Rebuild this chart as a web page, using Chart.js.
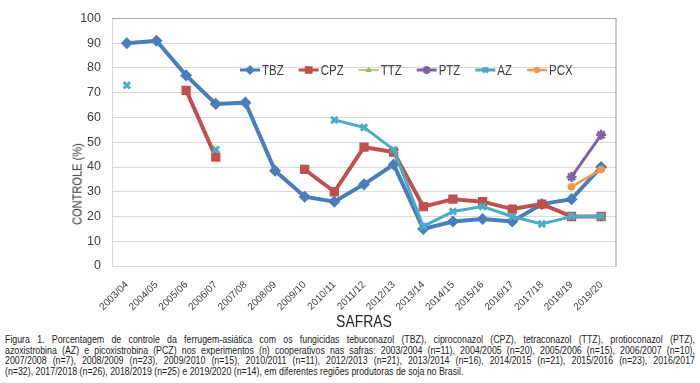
<!DOCTYPE html>
<html>
<head>
<meta charset="utf-8">
<script src="https://cdn.jsdelivr.net/npm/chart.js@4.4.1/dist/chart.umd.min.js"></script>
<style>
  html, body { margin: 0; padding: 0; background: #fff; }
  #wrap { position: relative; width: 700px; height: 383px; overflow: hidden; }
  #chartBox { position: absolute; left: 0; top: 0; width: 700px; height: 334px; }
  .narrow { font-family: "Liberation Sans", Arial, sans-serif; white-space: nowrap; }
  #ytitle {
    position: absolute; left: 77px; top: 184px;
    transform: translate(-50%, -50%) rotate(-90deg) scaleX(0.82);
    font-size: 13.5px; color: #333;
  }
  #xtitle {
    position: absolute; left: 364px; top: 322px;
    transform: translate(-50%, -50%) scaleX(0.82);
    font-size: 17px; color: #262626;
  }
  #caption {
    position: absolute; left: 5px; top: 335px; width: 784px;
    transform-origin: 0 0; transform: scaleX(0.88);
    font-size: 10px; line-height: 10.5px; color: #222;
  }
  #caption div { text-align: justify; text-align-last: justify; }
  #caption div.last { text-align-last: left; }
</style>
</head>
<body>
<div id="wrap">
  <div id="chartBox"><canvas id="chart"></canvas></div>
  <div id="ytitle" class="narrow">CONTROLE (%)</div>
  <div id="xtitle" class="narrow">SAFRAS</div>
  <div id="caption" class="narrow">
    <div>Figura 1. Porcentagem de controle da ferrugem-asiática com os fungicidas tebuconazol (TBZ), ciproconazol (CPZ), tetraconazol (TTZ), protioconazol (PTZ),</div>
    <div>azoxistrobina (AZ) e picoxistrobina (PCZ) nos experimentos (n) cooperativos nas safras: 2003/2004 (n=11), 2004/2005 (n=20), 2005/2006 (n=15), 2006/2007 (n=10),</div>
    <div>2007/2008 (n=7), 2008/2009 (n=23), 2009/2010 (n=15), 2010/2011 (n=11), 2012/2013 (n=21), 2013/2014 (n=16), 2014/2015 (n=21), 2015/2016 (n=23), 2016/2017</div>
    <div class="last">(n=32), 2017/2018 (n=26), 2018/2019 (n=25) e 2019/2020 (n=14), em diferentes regiões produtoras de soja no Brasil.</div>
  </div>
</div>
<script>
/* --------------- Data --------------- */
const safras = ["2003/04", "2004/05", "2005/06", "2006/07", "2007/08", "2008/09", "2009/10", "2010/11",
  "2011/12", "2012/13", "2013/14", "2014/15", "2015/16", "2016/17", "2017/18", "2018/19", "2019/20"];

const tbz = [90, 91, 77, 65.5, 66, 38.5, 28, 26, 33, 41, 15, 18, 19, 18, 25, 27, 40];
const cpz = [null, null, 71, 44, null, null, 39, 30, 48, 46, 24, 27, 26, 23, 25, 20, 20];
const ttz = [null, null, null, null, null, null, null, null, null, null, null, null, null, null, null, 20, 20];
const ptz = [null, null, null, null, null, null, null, null, null, null, null, null, null, null, null, 36, 53];
const az  = [73, null, null, 47, null, null, null, 59, 56, 47, 16, 22, 24, 20, 17, 20, 20];
const pcx = [null, null, null, null, null, null, null, null, null, null, null, null, null, null, null, 32, 39];

const yTicks = [0, 10, 20, 30, 40, 50, 60, 70, 80, 90, 100];

const FONT = '"Liberation Sans", Arial, sans-serif';

/* --------------- Datasets --------------- */
// later series are drawn on top, as in the original spreadsheet chart
function serie(i, label, data, color, style, radius, width, pbw) {
  return {
    label: label,
    data: data,
    order: -i,
    borderColor: color,
    backgroundColor: color,
    pointBackgroundColor: color,
    pointBorderColor: color,
    borderWidth: width,
    pointStyle: style,
    pointRadius: radius,
    pointBorderWidth: pbw,
    tension: 0,
    spanGaps: false,
  };
}

const datasets = [
  serie(0, "TBZ", tbz, "#4a7ebb", "rectRot", 5, 4, 1.5),
  serie(1, "CPZ", cpz, "#c0504d", "rect", 5.5, 4, 1.5),
  serie(2, "TTZ", ttz, "#9bbb59", "triangle", 3.5, 1.5, 1),
  serie(3, "PTZ", ptz, "#8064a2", "star", 5, 3, 2.5),
  serie(4, "AZ", az, "#4bacc6", "crossRot", 4.5, 3, 3),
  serie(5, "PCX", pcx, "#f79646", "circle", 3.5, 2.5, 1),
];

/* --------------- Legend inside the plot (Excel style: line + marker) --------------- */
const inlineLegend = {
  id: "inlineLegend",
  afterDraw(chart) {
    const ctx = chart.ctx;
    const squeeze = 0.82;
    let x = 240;
    const y = 70;
    ctx.save();
    ctx.font = "14px " + FONT;
    ctx.textBaseline = "middle";
    chart.data.datasets.forEach(ds => {
      ctx.strokeStyle = ds.borderColor;
      ctx.lineWidth = Math.min(ds.borderWidth, 3);
      ctx.beginPath();
      ctx.moveTo(x, y);
      ctx.lineTo(x + 20, y);
      ctx.stroke();
      ctx.fillStyle = ds.borderColor;
      ctx.lineWidth = ds.pointBorderWidth;
      Chart.helpers.drawPoint(ctx, { pointStyle: ds.pointStyle, radius: ds.pointRadius * 0.8, borderWidth: ds.pointBorderWidth, rotation: 0 }, x + 10, y);
      // narrow text, like the Calibri of the original
      ctx.save();
      ctx.translate(x + 22, y + 1);
      ctx.scale(squeeze, 1);
      ctx.fillStyle = "#404040";
      ctx.fillText(ds.label, 0, 0);
      ctx.restore();
      x += 22 + ctx.measureText(ds.label).width * squeeze + 15;
    });
    ctx.restore();
  }
};

/* --------------- Top / right frame --------------- */
const frame = {
  id: "frame",
  beforeDatasetsDraw(chart) {
    const { ctx, chartArea: a } = chart;
    ctx.save();
    ctx.strokeStyle = "#a6a6a6";
    ctx.lineWidth = 1.2;
    ctx.beginPath();
    ctx.moveTo(a.left, a.top);
    ctx.lineTo(a.right, a.top);
    ctx.lineTo(a.right, a.bottom);
    ctx.stroke();
    ctx.restore();
  }
};

/* --------------- Chart --------------- */
new Chart(document.getElementById("chart"), {
  type: "line",
  data: { labels: safras, datasets: datasets },
  plugins: [frame, inlineLegend],
  options: {
    responsive: true,
    maintainAspectRatio: false,
    animation: false,
    layout: { padding: { top: 11, right: 84, left: 0, bottom: 0 } },
    plugins: {
      legend: { display: false },
      tooltip: { enabled: false },
    },
    scales: {
      x: {
        offset: true,
        grid: { display: false, drawTicks: false },
        border: { color: "#d9d9d9" },
        ticks: {
          color: "#404040",
          font: { family: FONT, size: 10 },
          minRotation: 45,
          maxRotation: 45,
          autoSkip: false,
          padding: 13,
        },
        afterFit: s => { s.height = 68; },
      },
      y: {
        min: 0,
        max: 100,
        afterBuildTicks: s => { s.ticks = yTicks.map(v => ({ value: v })); },
        grid: { color: "#d9d9d9", drawTicks: false },
        border: { color: "#d9d9d9" },
        ticks: {
          color: "#404040",
          font: { family: FONT, size: 12.5 },
          padding: 11,
        },
        afterFit: s => { s.width = 112; },
      },
    },
  },
});
</script>
</body>
</html>
